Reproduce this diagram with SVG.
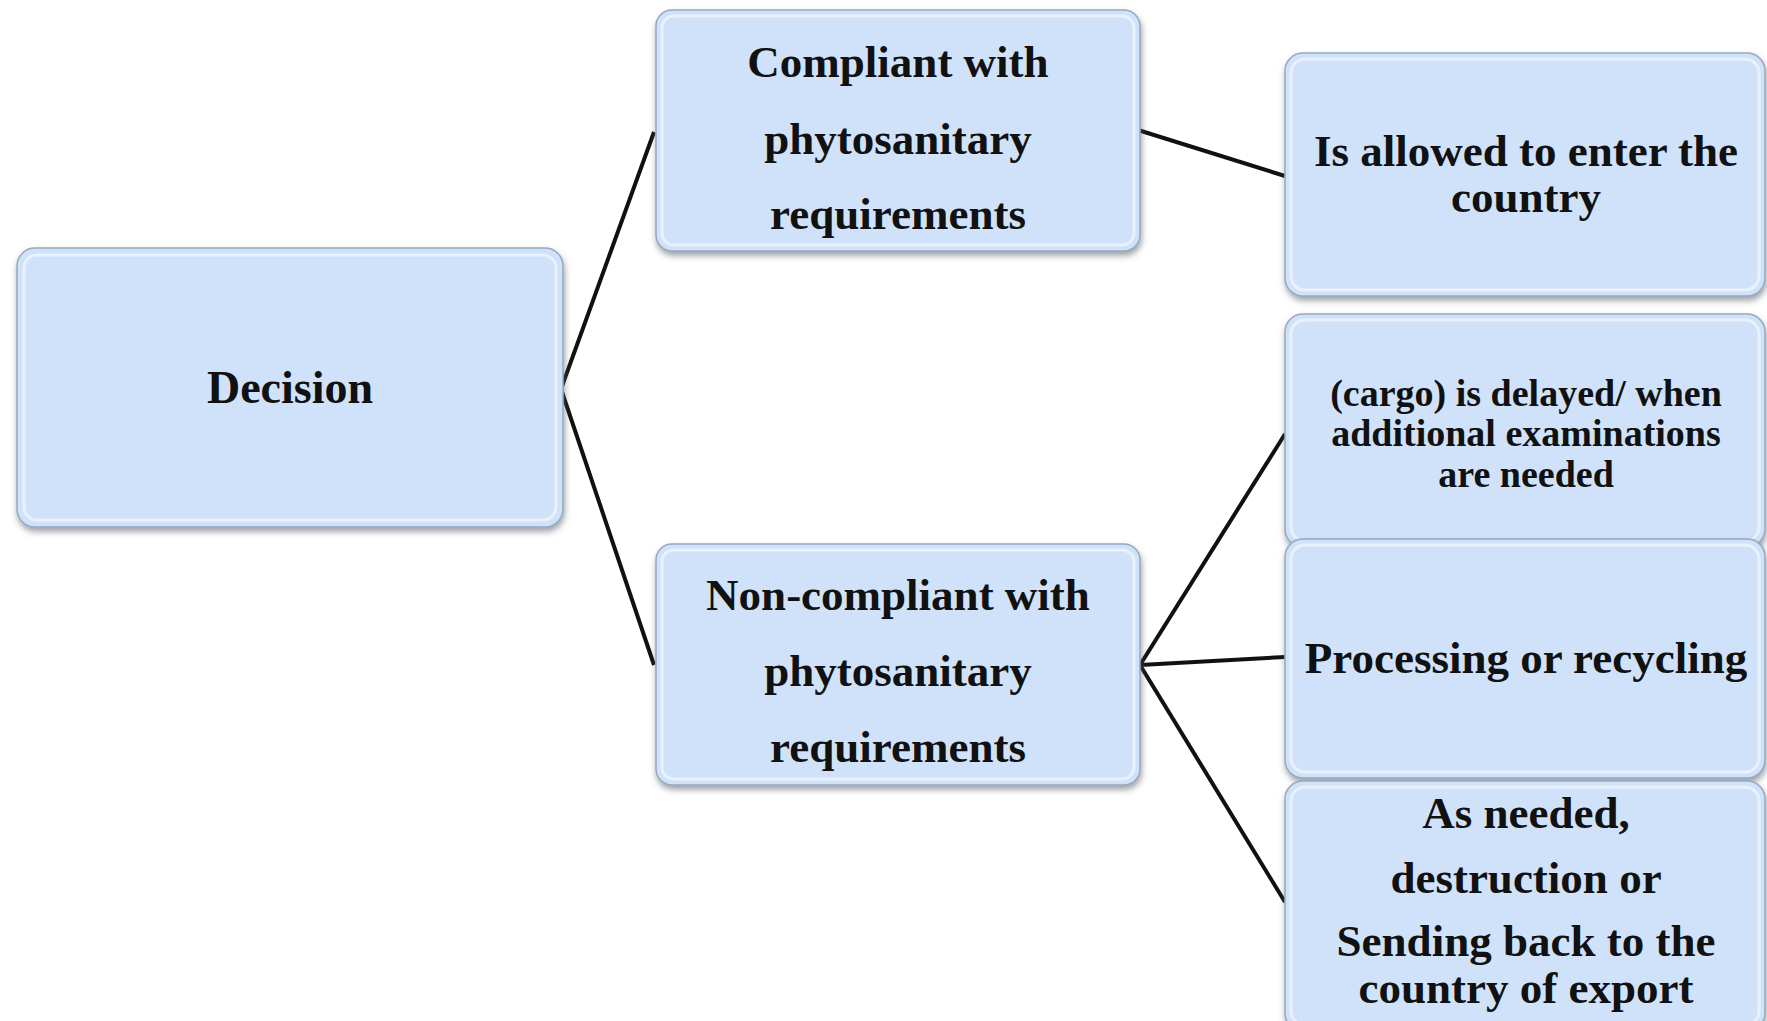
<svg xmlns="http://www.w3.org/2000/svg" width="1767" height="1021" viewBox="0 0 1767 1021">
<style>
.box{fill:#cfe2f9;stroke:#98a9bd;stroke-width:1.5}
.hl{fill:none;stroke:#ffffff;stroke-opacity:0.55;stroke-width:3}
.t{font-family:"Liberation Serif","Times New Roman",serif;font-weight:bold;fill:#111;text-anchor:middle}
.f45{font-size:45px}
.f38{font-size:38px}
.edge{stroke:#111;stroke-width:4;fill:none;stroke-linejoin:miter}
</style>
<defs>
<filter id="sh" x="-10%" y="-10%" width="120%" height="130%">
<feDropShadow dx="1" dy="4" stdDeviation="3" flood-color="#5a6470" flood-opacity="0.6"/>
</filter>
</defs>
<rect width="1767" height="1021" fill="#ffffff"/>
<g id="connectors">
<polyline class="edge" points="654,132 561,389 654,665"/>
<line class="edge" x1="1138" y1="130" x2="1285" y2="176"/>
<line class="edge" x1="1140" y1="665" x2="1285" y2="434"/>
<line class="edge" x1="1140" y1="665" x2="1285" y2="657"/>
<line class="edge" x1="1140" y1="665" x2="1285" y2="902"/>
</g>
<g id="decision">
<rect class="box" x="17" y="248" width="546" height="279" rx="18" filter="url(#sh)"/>
<rect class="hl" x="24" y="255" width="532" height="265" rx="13"/>
<text class="t" x="290" y="403" style="font-size:46px">Decision</text>
</g>
<g id="compliant">
<rect class="box" x="656" y="10" width="484" height="241" rx="16" filter="url(#sh)"/>
<rect class="hl" x="662" y="16" width="472" height="229" rx="12"/>
<text class="t f45" x="898" y="77">Compliant with</text>
<text class="t f45" x="898" y="154">phytosanitary</text>
<text class="t f45" x="898" y="229">requirements</text>
</g>
<g id="noncompliant">
<rect class="box" x="656" y="544" width="484" height="241" rx="16" filter="url(#sh)"/>
<rect class="hl" x="662" y="550" width="472" height="229" rx="12"/>
<text class="t f45" x="898" y="610">Non-compliant with</text>
<text class="t f45" x="898" y="686">phytosanitary</text>
<text class="t f45" x="898" y="762">requirements</text>
</g>
<g id="allowed">
<rect class="box" x="1285" y="53" width="480" height="243" rx="18" filter="url(#sh)"/>
<rect class="hl" x="1291" y="59" width="468" height="231" rx="14"/>
<text class="t f45" x="1526" y="166">Is allowed to enter the</text>
<text class="t f45" x="1526" y="212">country</text>
</g>
<g id="delayed">
<rect class="box" x="1285" y="314" width="480" height="233" rx="18" filter="url(#sh)"/>
<rect class="hl" x="1291" y="320" width="468" height="221" rx="14"/>
<text class="t f38" x="1526" y="406">(cargo) is delayed/ when</text>
<text class="t f38" x="1526" y="446">additional examinations</text>
<text class="t f38" x="1526" y="487">are needed</text>
</g>
<g id="processing">
<rect class="box" x="1285" y="539" width="480" height="239" rx="18" filter="url(#sh)"/>
<rect class="hl" x="1291" y="545" width="468" height="227" rx="14"/>
<text class="t f45" x="1526" y="673">Processing or recycling</text>
</g>
<g id="destruction">
<rect class="box" x="1285" y="781" width="480" height="250" rx="18" filter="url(#sh)"/>
<rect class="hl" x="1291" y="787" width="468" height="238" rx="14"/>
<text class="t f45" x="1526" y="828">As needed,</text>
<text class="t f45" x="1526" y="893">destruction or</text>
<text class="t f45" x="1526" y="956">Sending back to the</text>
<text class="t f45" x="1526" y="1003">country of export</text>
</g>
</svg>
